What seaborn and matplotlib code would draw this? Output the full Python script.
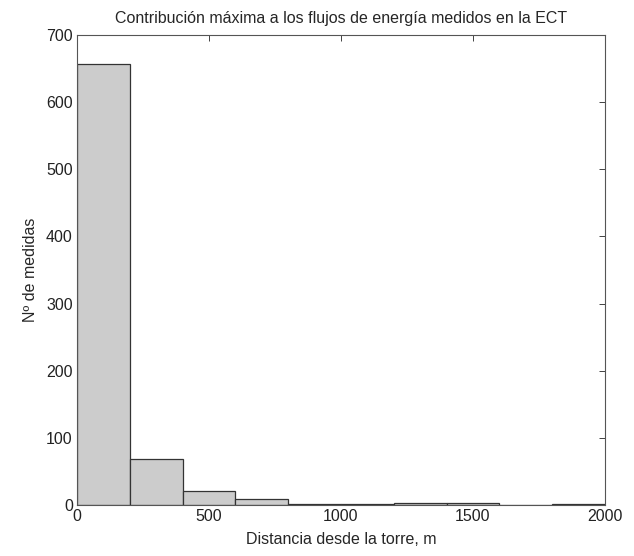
import numpy as np
import seaborn as sns
import matplotlib.pyplot as plt

# histogram bins (distance from tower, m) and counts
bin_edges = [0, 200, 400, 600, 800, 1000, 1200, 1400, 1600, 1800, 2000]
counts = [657, 69, 21, 9, 1, 2, 3, 3, 0, 1]
bin_centers = [(a + b) / 2 for a, b in zip(bin_edges[:-1], bin_edges[1:])]

sns.set_style("white")
plt.rcParams['font.family'] = ['Liberation Sans', 'DejaVu Sans']

fig = plt.figure(figsize=(6.34, 5.56), dpi=100)
# axes box: x 77..605 px, y 35..505 px
ax = fig.add_axes([77 / 634, 1 - 505 / 556, 528 / 634, 470 / 556])

sns.histplot(x=bin_centers, weights=counts, bins=bin_edges, ax=ax,
             color="#cccccc", edgecolor="#333333", linewidth=0.9, alpha=1)

ax.set_xlim(0, 2000)
ax.set_ylim(0, 700)
ax.set_xticks([0, 500, 1000, 1500, 2000])
ax.set_yticks(range(0, 701, 100))
ax.tick_params(direction='in', top=True, right=True, length=4, width=0.6,
               labelsize=11.5, colors='#222222', pad=3)
for s in ax.spines.values():
    s.set_color('#555555')
    s.set_linewidth(0.8)

ax.set_title("Contribución máxima a los flujos de energía medidos en la ECT",
             fontsize=11.5, pad=9)
ax.set_xlabel("Distancia desde la torre, m", fontsize=11.5, labelpad=6)
ax.set_ylabel("Nº de medidas", fontsize=11.5, labelpad=6)

fig.savefig("out.png", dpi=100)
